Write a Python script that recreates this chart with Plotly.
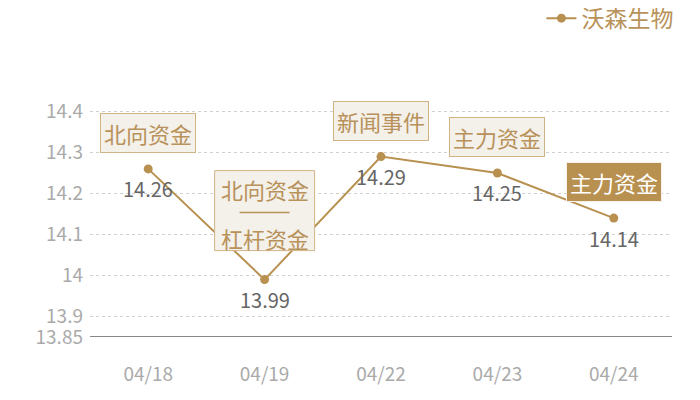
import plotly.graph_objects as go

dates = ["04/18", "04/19", "04/22", "04/23", "04/24"]
prices = [14.26, 13.99, 14.29, 14.25, 14.14]
tags = ["北向资金", "北向资金|杠杆资金", "新闻事件", "主力资金", "主力资金"]
tag_filled = [False, False, False, False, True]
series_name = "沃森生物"
y_ticks = [13.85, 13.9, 14.0, 14.1, 14.2, 14.3, 14.4, 14.428]
y_ticktext = ["13.85", "13.9", "14", "14.1", "14.2", "14.3", "14.4", ""]

GOLD = "#b8904f"
TAGTXT = "#b8925a"
BOXFILL = "#f4f0ea"
BOXLINE = "#d2b386"
FONT = "Noto Sans CJK SC"

fig = go.Figure()
fig.add_trace(go.Scatter(
    x=dates, y=prices, name=series_name, mode="lines+markers",
    line=dict(color=GOLD, width=2),
    marker=dict(color=GOLD, size=9),
))

for d, p in zip(dates, prices):
    fig.add_annotation(x=d, y=p, xref="x", yref="y", text=f"{p:.2f}",
                       showarrow=False, yshift=-20,
                       font=dict(family=FONT, size=20, color="#666666"))

for i, (d, p, t, filled) in enumerate(zip(dates, prices, tags, tag_filled)):
    if "|" in t:
        top, bottom = t.split("|")
        fig.add_shape(type="rect", xref="x", yref="y",
                      xsizemode="pixel", ysizemode="pixel",
                      xanchor=i, yanchor=p, x0=-50, x1=50, y0=29, y1=109,
                      fillcolor=BOXFILL, line=dict(color=BOXLINE, width=1),
                      layer="above")
        for txt, sh in ((top, 91), (bottom, 42)):
            fig.add_annotation(x=d, y=p, xref="x", yref="y", text=txt,
                               showarrow=False, yshift=sh,
                               font=dict(family=FONT, size=22, color=TAGTXT))
        fig.add_shape(type="line", xref="x", yref="y",
                      xsizemode="pixel", ysizemode="pixel",
                      xanchor=i, yanchor=p, x0=-25, x1=25, y0=67, y1=67,
                      line=dict(color=TAGTXT, width=1.5), layer="above")
    else:
        fig.add_annotation(
            x=d, y=p, xref="x", yref="y", text=t, showarrow=False,
            yshift=36,
            font=dict(family=FONT, size=22, color="#ffffff" if filled else TAGTXT),
            bgcolor=GOLD if filled else BOXFILL,
            bordercolor=BOXFILL if filled else BOXLINE,
            borderwidth=1, borderpad=3,
        )

fig.update_layout(
    width=692, height=392,
    margin=dict(l=82, r=28, t=92, b=63, autoexpand=False),
    paper_bgcolor="white", plot_bgcolor="white",
    font=dict(family=FONT),
    showlegend=True,
    legend=dict(orientation="h", x=1.011, xanchor="right", y=1.345, yanchor="middle",
                font=dict(family=FONT, size=23, color=TAGTXT)),
    xaxis=dict(type="category", range=[-0.5, 4.5], showgrid=False,
               showline=False, zeroline=False,
               ticks="outside", ticklen=20, tickcolor="rgba(0,0,0,0)",
               tickfont=dict(family=FONT, size=19, color="#aaaaaa")),
    yaxis=dict(range=[13.85, 14.428], tickvals=y_ticks, ticktext=y_ticktext,
               showgrid=True, gridcolor="#d0d0d0", griddash="3px,3px", gridwidth=1,
               zeroline=False, showline=False, ticklabelstandoff=6,
               tickfont=dict(family=FONT, size=19, color="#aaaaaa")),
)
fig.add_shape(type="line", xref="paper", yref="y", x0=0, x1=1, y0=13.85, y1=13.85,
              line=dict(color="#111111", width=1))

fig.write_html("out.html")
